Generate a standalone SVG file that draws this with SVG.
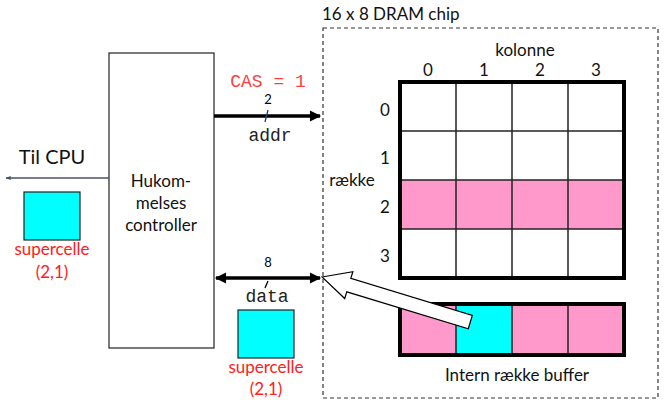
<svg xmlns="http://www.w3.org/2000/svg" width="668" height="408" viewBox="0 0 668 408">
<defs>
<style>
.t{font-family:Lato,"Open Sans","Noto Sans",sans-serif;font-size:17px;fill:#111;text-anchor:middle}
.red{fill:#ff2020}
.mono{font-family:"Liberation Mono","DejaVu Sans Mono",monospace;font-size:18px;text-anchor:middle}
.small{font-family:Lato,"Noto Sans",sans-serif;font-size:13px;fill:#000;text-anchor:middle}
.cell{stroke:#222;stroke-width:1.5}
.cyan{fill:#00ffff;stroke:#222;stroke-width:1.2}
.bus{stroke:#000;stroke-width:3.5;fill:none}
</style>
<marker id="ah" viewBox="0 0 10 10" refX="9" refY="5" markerWidth="3.6" markerHeight="3.2" orient="auto-start-reverse" markerUnits="strokeWidth">
<path d="M0,0 L10,5 L0,10 z" fill="#000"/>
</marker>
<marker id="ahs" viewBox="0 0 10 10" refX="9" refY="5" markerWidth="5" markerHeight="4" orient="auto" markerUnits="strokeWidth">
<path d="M0,1 L10,5 L0,9 z" fill="#44546a"/>
</marker>
</defs>

<g id="chip">
<rect x="323" y="28" width="335" height="370" fill="none" stroke="#333" stroke-width="1.2" stroke-dasharray="4,3"/>
<text class="t" x="322" y="20" style="text-anchor:start">16 x 8 DRAM chip</text>
</g>

<g id="controller">
<rect x="109" y="53" width="105" height="295" fill="#fff" stroke="#222" stroke-width="1.2"/>
<text class="t" x="161" y="187">Hukom-</text>
<text class="t" x="161" y="209">melses</text>
<text class="t" x="161" y="231">controller</text>
</g>

<g id="cpu">
<text class="t" x="52" y="164" style="font-size:20px">Til CPU</text>
</g>

<g id="supercell-cpu">
<rect class="cyan" x="24" y="192" width="56" height="48"/>
<text class="t red" x="52" y="255">supercelle</text>
<text class="t red" x="52" y="278">(2,1)</text>
</g>

<g id="supercell-data">
<rect class="cyan" x="238" y="310" width="56" height="48"/>
<text class="t red" x="266" y="373">supercelle</text>
<text class="t red" x="266" y="395">(2,1)</text>
</g>

<g id="array">
<text class="t" x="525" y="56">kolonne</text>
<text class="t" x="428" y="76">0</text>
<text class="t" x="484" y="76">1</text>
<text class="t" x="540" y="76">2</text>
<text class="t" x="596" y="76">3</text>
<text class="t" x="385" y="116">0</text>
<text class="t" x="385" y="164">1</text>
<text class="t" x="385" y="213">2</text>
<text class="t" x="385" y="262">3</text>
<text class="t" x="352" y="186">række</text>
<rect x="400" y="180" width="224" height="49" fill="#ff99cc"/>
<g class="cell">
<line x1="400" y1="131" x2="624" y2="131"/>
<line x1="400" y1="180" x2="624" y2="180"/>
<line x1="400" y1="229" x2="624" y2="229"/>
<line x1="456" y1="82" x2="456" y2="278"/>
<line x1="512" y1="82" x2="512" y2="278"/>
<line x1="568" y1="82" x2="568" y2="278"/>
</g>
<rect x="400" y="82" width="224" height="196" fill="none" stroke="#000" stroke-width="4"/>
</g>

<g id="buffer">
<rect x="400" y="304" width="56" height="51" fill="#ff99cc"/>
<rect x="456" y="304" width="56" height="51" fill="#00ffff"/>
<rect x="512" y="304" width="112" height="51" fill="#ff99cc"/>
<g class="cell">
<line x1="456" y1="304" x2="456" y2="355"/>
<line x1="512" y1="304" x2="512" y2="355"/>
<line x1="568" y1="304" x2="568" y2="355"/>
</g>
<rect x="400" y="304" width="224" height="51" fill="none" stroke="#000" stroke-width="4"/>
<text class="t" x="517" y="381">Intern række buffer</text>
</g>

<g id="connectors">
<line x1="109" y1="178" x2="6" y2="178" stroke="#44546a" stroke-width="1.3" marker-end="url(#ahs)"/>
<text class="mono" x="268" y="87" style="fill:#ff4040">CAS = 1</text>
<line class="bus" x1="214" y1="116" x2="320" y2="116" marker-end="url(#ah)"/>
<line x1="268" y1="110" x2="265" y2="122" stroke="#1f3a80" stroke-width="1.3"/>
<text class="small" x="268" y="104">2</text>
<text class="mono" x="270" y="141" style="fill:#222">addr</text>
<line class="bus" x1="216" y1="278" x2="320" y2="278" marker-start="url(#ah)" marker-end="url(#ah)"/>
<line x1="268" y1="281" x2="265" y2="288" stroke="#000" stroke-width="1.3"/>
<text class="small" x="268" y="267">8</text>
<text class="mono" x="267" y="302" style="fill:#222">data</text>
<polygon points="0,0 28,-14 28,-7 155,-7 155,7 28,7 28,14" transform="translate(322,277) rotate(16.9)" fill="#fff" stroke="#000" stroke-width="1.2" stroke-linejoin="miter"/>
</g>
</svg>
